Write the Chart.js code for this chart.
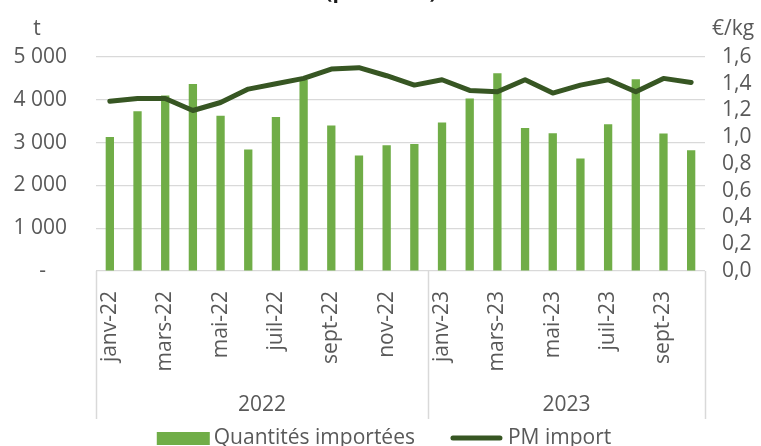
<!DOCTYPE html>
<html>
<head>
<meta charset="utf-8">
<script src="https://cdn.jsdelivr.net/npm/chart.js@4.4.1/dist/chart.umd.min.js"></script>
<style>
  html, body { margin: 0; padding: 0; background: #ffffff; }
  #wrap { width: 761px; height: 446px; }
</style>
</head>
<body>
<div id="wrap"><canvas id="c" width="761" height="446"></canvas></div>
<script>
const months = ['janv-22','févr-22','mars-22','avr-22','mai-22','juin-22','juil-22','août-22','sept-22','oct-22','nov-22','déc-22',
                'janv-23','févr-23','mars-23','avr-23','mai-23','juin-23','juil-23','août-23','sept-23','oct-23'];
const quantities = [3130,3730,4100,4370,3630,2840,3600,4460,3400,2700,2940,2970,
                    3470,4030,4620,3340,3220,2630,3430,4480,3210,2820];
const prices = [1.27,1.29,1.29,1.20,1.26,1.36,1.40,1.44,1.51,1.52,1.46,1.39,
                1.43,1.35,1.34,1.43,1.33,1.39,1.43,1.34,1.44,1.41];
const years = ['2022','2023'];
const yearCounts = [12, 10];
const leftTicks = [0,1000,2000,3000,4000,5000];
const rightTicks = [0,0.2,0.4,0.6,0.8,1.0,1.2,1.4,1.6];
const seriesNames = ['Quantités importées','PM import'];
const titleText = '(poids net)';
const leftUnit = 't';
const rightUnit = '€/kg';

const BAR = '#70AD47';
const LINE = '#375623';
const TXT = '#595959';
const GRID = '#d9d9d9';
const FONT = "'Open Sans', sans-serif";

const extras = {
  id: 'extras',
  afterDraw(chart) {
    const ctx = chart.ctx;
    const xs = chart.scales.x;
    const area = chart.chartArea;
    ctx.save();
    // title (cut at top)
    ctx.fillStyle = '#1a1a1a';
    ctx.font = "bold 21px " + FONT;
    ctx.textAlign = 'center';
    ctx.textBaseline = 'alphabetic';
    ctx.fillText(titleText, 381, -2);
    // units
    ctx.fillStyle = TXT;
    ctx.font = "21px " + FONT;
    ctx.textBaseline = 'middle';
    ctx.fillText(leftUnit, 37, 29);
    ctx.fillText(rightUnit, 733, 29);
    // category group separators + years
    const half = (xs.getPixelForValue(1) - xs.getPixelForValue(0)) / 2;
    ctx.strokeStyle = GRID;
    ctx.lineWidth = 1.5;
    let start = 0;
    const bounds = [xs.getPixelForValue(0) - half];
    yearCounts.forEach((n, i) => {
      const end = start + n - 1;
      const right = xs.getPixelForValue(end) + half;
      bounds.push(right);
      const left = xs.getPixelForValue(start) - half;
      ctx.fillStyle = TXT;
      ctx.textAlign = 'center';
      ctx.fillText(years[i], (left + right) / 2, 405);
      start += n;
    });
    bounds.forEach(b => {
      ctx.beginPath();
      ctx.moveTo(Math.round(b) + 0.5, area.bottom);
      ctx.lineTo(Math.round(b) + 0.5, 419);
      ctx.stroke();
    });
    // legend
    const ly = 438;
    const boxW = 53, gap1 = 4, gapMid = 35, gap2 = 5;
    const w1 = ctx.measureText(seriesNames[0]).width;
    const w2 = ctx.measureText(seriesNames[1]).width;
    const total = boxW + gap1 + w1 + gapMid + boxW + gap2 + w2;
    let x = 384 - total / 2;
    ctx.fillStyle = BAR;
    ctx.fillRect(x, ly - 6, boxW, 13);
    x += boxW + gap1;
    ctx.fillStyle = TXT;
    ctx.textAlign = 'left';
    ctx.fillText(seriesNames[0], x, ly);
    x += w1 + gapMid;
    ctx.strokeStyle = LINE;
    ctx.lineWidth = 5;
    ctx.lineCap = 'round';
    ctx.beginPath();
    ctx.moveTo(x + 3, ly);
    ctx.lineTo(x + boxW - 3, ly);
    ctx.stroke();
    x += boxW + gap2;
    ctx.fillStyle = TXT;
    ctx.fillText(seriesNames[1], x, ly);
    ctx.restore();
  }
};

new Chart(document.getElementById('c'), {
  type: 'bar',
  data: {
    labels: months,
    datasets: [
      {
        type: 'line',
        label: seriesNames[1],
        data: prices,
        yAxisID: 'y1',
        borderColor: LINE,
        backgroundColor: LINE,
        borderWidth: 5,
        tension: 0,
        pointRadius: 0,
        borderCapStyle: 'round',
        borderJoinStyle: 'round',
        order: 0
      },
      {
        type: 'bar',
        label: seriesNames[0],
        data: quantities,
        yAxisID: 'y',
        backgroundColor: BAR,
        barPercentage: 0.3,
        categoryPercentage: 1.0,
        order: 1
      }
    ]
  },
  options: {
    responsive: false,
    animation: false,
    devicePixelRatio: 1,
    layout: { padding: { top: 57, left: 0, right: 0, bottom: 0 } },
    plugins: {
      legend: { display: false },
      tooltip: { enabled: false },
      title: { display: false }
    },
    scales: {
      x: {
        grid: { display: false, drawTicks: false },
        border: { display: false },
        ticks: {
          autoSkip: false,
          minRotation: 90,
          maxRotation: 90,
          padding: 20,
          color: TXT,
          font: { family: FONT, size: 21 },
          callback: function(v, i) { return i % 2 === 0 ? months[i] : ''; }
        },
        afterFit: s => { s.height = 175; }
      },
      y: {
        position: 'left',
        min: 0, max: 5000,
        afterBuildTicks: s => { s.ticks = leftTicks.map(v => ({ value: v })); },
        grid: { color: GRID, lineWidth: 1.2, drawTicks: false },
        border: { display: false },
        ticks: {
          autoSkip: false,
          padding: 29,
          color: TXT,
          font: { family: FONT, size: 21 },
          callback: v => v === 0 ? '-\u2002\u2002' : String(v).replace(/\B(?=(\d{3})+(?!\d))/g, '\u00a0')
        },
        afterFit: s => { s.width = 96; }
      },
      y1: {
        position: 'right',
        min: 0, max: 1.6,
        afterBuildTicks: s => { s.ticks = rightTicks.map(v => ({ value: v })); },
        grid: { display: false, drawTicks: false },
        border: { display: false },
        ticks: {
          autoSkip: false,
          padding: 17,
          color: TXT,
          font: { family: FONT, size: 21 },
          callback: v => Number(v).toFixed(1).replace('.', ',')
        },
        afterFit: s => { s.width = 56; }
      }
    }
  },
  plugins: [extras]
});
</script>
</body>
</html>
